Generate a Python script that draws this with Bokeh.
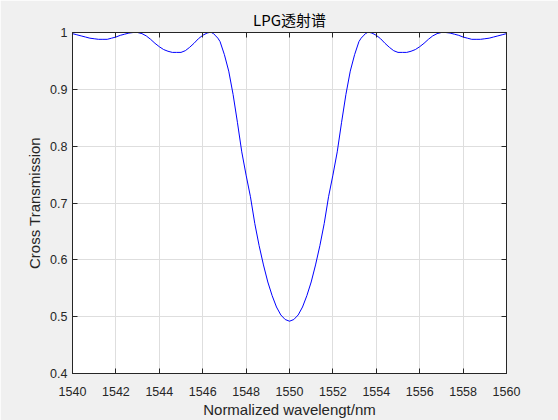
from bokeh.plotting import figure
from bokeh.models import Range1d, LinearAxis, FixedTicker, CustomJSTickFormatter
from bokeh.embed import file_html
from bokeh.resources import INLINE

# wavelength (nm), left half, mirrored for the right half
wl_left = [1540.0, 1540.2, 1540.4, 1540.6, 1540.8, 1541.0, 1541.2, 1541.4, 1541.6, 1541.8,
           1542.0, 1542.2, 1542.4, 1542.6, 1542.8, 1543.0, 1543.2, 1543.4, 1543.6, 1543.8,
           1544.0, 1544.2, 1544.4, 1544.6, 1544.8, 1545.0, 1545.2, 1545.4, 1545.6, 1545.8,
           1546.0, 1546.2, 1546.3, 1546.4, 1546.5, 1546.6, 1546.7, 1546.8, 1547.0, 1547.2,
           1547.4, 1547.6, 1547.8, 1548.0, 1548.2, 1548.4, 1548.6, 1548.8, 1549.0, 1549.2,
           1549.4, 1549.6, 1549.8, 1550.0]
t_left = [0.998, 0.996, 0.994, 0.992, 0.990, 0.989, 0.988, 0.988, 0.988, 0.990,
          0.992, 0.995, 0.997, 0.999, 1.000, 1.000, 0.998, 0.994, 0.988, 0.981,
          0.975, 0.970, 0.967, 0.965, 0.965, 0.965, 0.968, 0.974, 0.981, 0.989,
          0.995, 0.999, 1.000, 1.000, 0.998, 0.994, 0.990, 0.984, 0.961, 0.932,
          0.891, 0.842, 0.790, 0.749, 0.711, 0.664, 0.625, 0.591, 0.561, 0.537,
          0.517, 0.503, 0.495, 0.492]
wl_right = [1550.2, 1550.4, 1550.6, 1550.8, 1551.0, 1551.2, 1551.4, 1551.6, 1551.8, 1552.0,
            1552.2, 1552.4, 1552.6, 1552.8, 1553.0, 1553.2, 1553.3, 1553.4, 1553.5, 1553.6,
            1553.7, 1553.8, 1554.0, 1554.2, 1554.4, 1554.6, 1554.8, 1555.0, 1555.2, 1555.4,
            1555.6, 1555.8, 1556.0, 1556.2, 1556.4, 1556.6, 1556.8, 1557.0, 1557.2, 1557.4,
            1557.6, 1557.8, 1558.0, 1558.2, 1558.4, 1558.6, 1558.8, 1559.0, 1559.2, 1559.4,
            1559.6, 1559.8, 1560.0]
t_right = [0.495, 0.503, 0.517, 0.537, 0.561, 0.591, 0.625, 0.664, 0.711, 0.749,
           0.790, 0.842, 0.891, 0.932, 0.961, 0.984, 0.990, 0.994, 0.998, 1.000,
           1.000, 0.999, 0.995, 0.989, 0.981, 0.974, 0.968, 0.965, 0.965, 0.965,
           0.967, 0.970, 0.975, 0.981, 0.988, 0.994, 0.998, 1.000, 1.000, 0.999,
           0.997, 0.995, 0.992, 0.990, 0.988, 0.988, 0.988, 0.989, 0.990, 0.992,
           0.994, 0.996, 0.998]

wavelength = wl_left + wl_right
transmission = t_left + t_right

x_ticks = [1540, 1542, 1544, 1546, 1548, 1550, 1552, 1554, 1556, 1558, 1560]
y_ticks = [0.4, 0.5, 0.6, 0.7, 0.8, 0.9, 1.0]

BG = "#f0f0f0"
AX = "#262626"
FONT = "Liberation Sans"

p = figure(width=558, height=420, output_backend="svg", toolbar_location=None,
           x_range=Range1d(1540, 1560), y_range=Range1d(0.4, 1.0),
           title="LPG透射谱", x_axis_label="Normalized wavelengt/nm",
           y_axis_label="Cross Transmission")
p.min_border_left = 72
p.min_border_right = 52
p.min_border_top = 32
p.min_border_bottom = 46
p.border_fill_color = BG
p.background_fill_color = "white"
p.outline_line_color = AX
p.outline_line_width = 1

p.title.align = "center"
p.title.text_font = "Noto Sans CJK SC"
p.title.text_font_size = "15px"
p.title.text_font_style = "normal"
p.title.text_color = "#000000"
p.title.offset = 0
p.title.standoff = 6

xa = p.xaxis[0]
ya = p.yaxis[0]
xa.ticker = FixedTicker(ticks=x_ticks)
ya.ticker = FixedTicker(ticks=y_ticks)
ya.formatter = CustomJSTickFormatter(code="return (Math.round(tick*10)/10).toString();")

blank = CustomJSTickFormatter(code="return '';")
top = LinearAxis(ticker=FixedTicker(ticks=x_ticks), formatter=blank,
                 major_label_standoff=0)
right = LinearAxis(ticker=FixedTicker(ticks=y_ticks), formatter=blank,
                   major_label_standoff=0)
p.add_layout(top, "above")
p.add_layout(right, "right")

for ax in [xa, ya, top, right]:
    ax.axis_line_color = AX
    ax.major_tick_line_color = AX
    ax.major_tick_in = 5
    ax.major_tick_out = 0
    ax.minor_tick_line_color = None
    ax.major_label_text_color = AX
    ax.axis_label_text_color = AX
    ax.axis_label_text_font = FONT
    ax.axis_label_text_font_style = "normal"
    ax.axis_label_text_font_size = "15px"
    ax.major_label_text_font = FONT
    ax.major_label_text_font_size = "12.5px"

xa.major_label_standoff = 13
xa.axis_label_standoff = 2
ya.major_label_standoff = 5
ya.axis_label_standoff = 4

p.xgrid.grid_line_color = "#dedede"
p.ygrid.grid_line_color = "#dedede"
p.xgrid.ticker = FixedTicker(ticks=x_ticks)
p.ygrid.ticker = FixedTicker(ticks=y_ticks)

p.line(wavelength, transmission, line_color="#0000ff", line_width=1)

html = file_html(p, INLINE)
html = html.replace("<body>", '<body style="margin:0;background:#f0f0f0">', 1)
open("out.html", "w").write(html)
